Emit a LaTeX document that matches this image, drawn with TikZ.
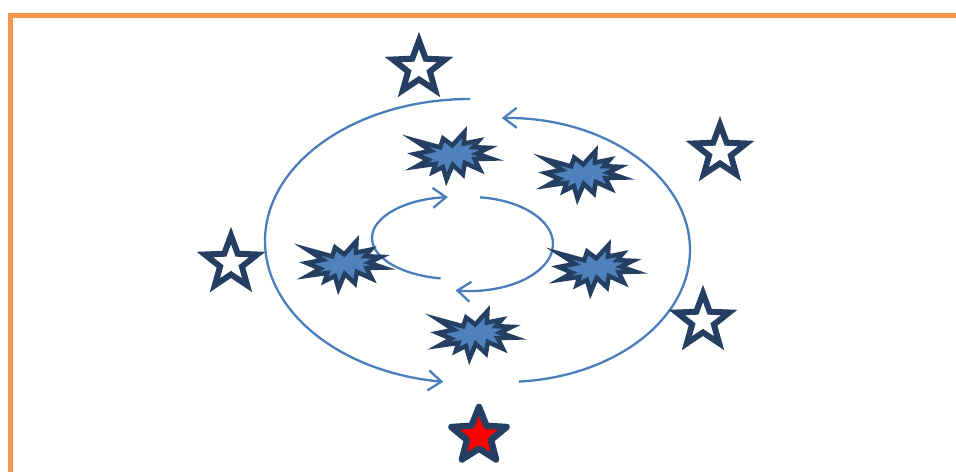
\documentclass[tikz,border=0pt]{standalone}
\usetikzlibrary{shapes.geometric,arrows.meta}
\definecolor{navy}{RGB}{36,63,98}
\definecolor{flowblue}{RGB}{74,126,187}
\definecolor{burstblue}{RGB}{79,129,189}
\definecolor{frameorange}{RGB}{247,150,70}
\tikzset{
  wstar/.style={star, star points=5, star point ratio=2.4, minimum size=55pt,
    inner sep=0pt, draw=navy, fill=white, line width=6pt, line join=miter},
  rstar/.style={star, star points=5, star point ratio=2.3, minimum size=58pt,
    inner sep=0pt, draw=navy, fill=red, line width=6.5pt, line join=round},
  flow/.style={draw=flowblue, line width=2.3pt,
    -{Straight Barb[length=13pt,width=20pt,line width=2.3pt]}},
  burststyle/.style={fill=burstblue, draw=navy, line width=4.5pt, line join=miter},
  burst/.pic={
    \filldraw[burststyle, rotate=4, xscale=76, yscale=46]
      (0.000,0.231) -- (0.172,0.500) -- (0.155,0.253) -- (0.351,0.294) --
      (0.273,0.161) -- (0.477,0.123) -- (0.315,0.015) -- (0.500,-0.115) --
      (0.280,-0.099) -- (0.340,-0.338) -- (0.149,-0.169) -- (0.113,-0.414) --
      (-0.012,-0.191) -- (-0.107,-0.500) -- (-0.143,-0.223) -- (-0.280,-0.316) --
      (-0.238,-0.145) -- (-0.494,-0.175) -- (-0.328,-0.045) -- (-0.500,0.101) --
      (-0.286,0.147) -- (-0.483,0.394) -- (-0.161,0.207) -- (-0.113,0.394) -- cycle;
  }
}
\begin{document}
\begin{tikzpicture}[x=1pt,y=1pt]
\useasboundingbox (0,0) rectangle (956,472);
% frame
\draw[frameorange, line width=5pt] (10.5,0) -- (10.5,456.5) -- (956,456.5);
% arc centres
\coordinate (oL) at (470,231);
\coordinate (oR) at (505,222);
\coordinate (iL) at (455,234);
\coordinate (iR) at (470,228);
% outer arcs
\draw[flow] ([shift={(90:205 and 142)}]oL) arc[start angle=90, end angle=262.5, x radius=205, y radius=142];
\draw[flow] ([shift={(-85.7:185 and 132)}]oR) arc[start angle=-85.7, end angle=91, x radius=185, y radius=132];
% inner arcs
\draw[flow] ([shift={(260:83 and 41)}]iL) arc[start angle=260, end angle=95, x radius=83, y radius=41];
\draw[flow] ([shift={(83:83 and 47)}]iR) arc[start angle=83, end angle=-100, x radius=83, y radius=47];
% bursts
\pic (b1) at (453,316) {burst};
\pic (b2) at (584,297) {burst};
\pic (b3) at (345,207) {burst};
\pic (b4) at (597,203) {burst};
\pic (b5) at (476,137) {burst};
% stars
\node[wstar] (s1) at (419,404) {};
\node[wstar] (s2) at (720,320) {};
\node[wstar] (s3) at (231,209) {};
\node[wstar] (s4) at (703,151) {};
\node[rstar] (s5) at (479,36) {};
\end{tikzpicture}
\end{document}
